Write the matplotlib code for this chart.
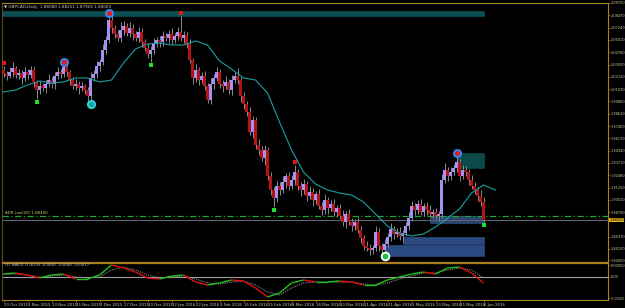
import matplotlib
matplotlib.use("Agg")
import numpy as np
import matplotlib.pyplot as plt
from matplotlib.patches import Rectangle
from matplotlib.collections import LineCollection
import matplotlib.transforms as mtransforms

# ---------------- data ----------------
first_open = 2.030
close = [
    2.026, 2.024, 2.028, 2.032, 2.025, 2.027, 2.022, 2.028, 2.025, 2.030,
    2.018, 2.010, 2.014, 2.012, 2.016, 2.020, 2.016, 2.024, 2.028, 2.026,
    2.033, 2.028, 2.020, 2.014, 2.016, 2.012, 2.014, 2.010, 2.004, 2.022,
    2.026, 2.034, 2.038, 2.050, 2.060, 2.080, 2.072, 2.066, 2.062, 2.070,
    2.074, 2.067, 2.072, 2.066, 2.062, 2.068, 2.058, 2.052, 2.046, 2.050,
    2.056, 2.060, 2.058, 2.064, 2.062, 2.066, 2.060, 2.064, 2.068, 2.062,
    2.065, 2.056, 2.040, 2.022, 2.030, 2.020, 2.024, 2.014, 2.000, 2.016,
    2.022, 2.028, 2.016, 2.014, 2.018, 2.010, 2.020, 2.024, 2.020, 2.004,
    1.996, 1.988, 1.968, 1.980, 1.955, 1.950, 1.942, 1.950, 1.924, 1.910,
    1.902, 1.914, 1.910, 1.918, 1.924, 1.914, 1.920, 1.928, 1.914, 1.910,
    1.916, 1.904, 1.908, 1.900, 1.906, 1.894, 1.890, 1.900, 1.892, 1.896,
    1.888, 1.892, 1.884, 1.878, 1.886, 1.878, 1.874, 1.878, 1.870, 1.862,
    1.854, 1.852, 1.850, 1.852, 1.868, 1.854, 1.850, 1.856, 1.863, 1.871,
    1.866, 1.868, 1.864, 1.867, 1.874, 1.882, 1.894, 1.890, 1.896, 1.888,
    1.894, 1.890, 1.886, 1.888, 1.884, 1.886, 1.920, 1.930, 1.924, 1.928,
    1.932, 1.938, 1.924, 1.930, 1.928, 1.920, 1.914, 1.910, 1.904, 1.898, 1.880,
]
wick_up = [
    .004, .003, .005, .006, .002, .004, .003, .005, .003, .004,
    .003, .002, .005, .003, .004, .006, .003, .004, .005, .003,
    .005, .004, .002, .003, .005, .003, .004, .002, .003, .006,
    .004, .005, .003, .006, .004, .007, .005, .003, .004, .008,
    .005, .003, .006, .004, .003, .005, .004, .003, .005, .004,
    .006, .003, .004, .005, .003, .004, .006, .003, .005, .016,
    .004, .003, .005, .002, .006, .003, .004, .005, .003, .006,
    .004, .005, .003, .004, .006, .003, .005, .004, .008, .003,
    .004, .003, .005, .004, .003, .006, .004, .005, .003, .004,
    .003, .005, .004, .006, .003, .004, .005, .007, .003, .004,
    .005, .003, .006, .004, .003, .005, .004, .006, .003, .004,
    .005, .003, .004, .006, .003, .005, .004, .003, .005, .004,
    .003, .005, .004, .003, .006, .004, .003, .005, .004, .006,
    .003, .004, .005, .003, .004, .006, .005, .003, .004, .005,
    .003, .004, .005, .003, .004, .003, .006, .007, .003, .005,
    .004, .009, .003, .005, .004, .003, .005, .004, .003, .006, .005,
]
wick_dn = [
    .003, .004, .002, .005, .003, .004, .006, .003, .004, .003,
    .005, .009, .004, .003, .005, .003, .004, .005, .003, .004,
    .003, .004, .005, .003, .004, .006, .003, .004, .005, .008,
    .003, .004, .005, .003, .004, .003, .005, .004, .003, .004,
    .005, .003, .004, .006, .003, .004, .005, .003, .004, .008,
    .004, .003, .005, .004, .003, .005, .004, .003, .004, .003,
    .005, .004, .003, .006, .004, .005, .003, .004, .003, .004,
    .005, .003, .004, .006, .003, .004, .005, .003, .004, .006,
    .005, .004, .003, .006, .004, .005, .003, .007, .004, .005,
    .009, .004, .005, .003, .006, .004, .003, .005, .004, .006,
    .004, .005, .003, .006, .004, .003, .005, .004, .006, .003,
    .004, .005, .003, .004, .006, .003, .005, .004, .003, .005,
    .004, .003, .005, .004, .003, .005, .004, .006, .003, .004,
    .005, .003, .004, .006, .003, .004, .003, .005, .004, .003,
    .004, .005, .003, .004, .003, .005, .004, .003, .005, .004,
    .003, .004, .005, .003, .004, .005, .003, .004, .005, .004, .002,
]

# moving average sampled every 4 bars (bar 0 .. 164)
ma_step = 4
ma_vals = [2.008, 2.010, 2.015, 2.019, 2.017, 2.018, 2.022, 2.022, 2.018, 2.020,
           2.037, 2.051, 2.056, 2.057, 2.055, 2.055, 2.059, 2.055, 2.039, 2.031,
           2.022, 2.020, 2.007, 1.978, 1.950, 1.928, 1.916, 1.910, 1.907, 1.905,
           1.898, 1.886, 1.874, 1.867, 1.864, 1.866, 1.873, 1.882, 1.891, 1.907,
           1.915, 1.910]

# MACD (7,30,9) sampled every 4 bars (bar 0 .. 160)
macd_vals = [0.0024, 0.0032, 0.0016, -0.0008, 0.0016, 0.0024, -0.0016, -0.0016, 0.0016, 0.0096,
             0.0072, 0.0040, -0.0008, -0.0016, 0.0008, 0.0016, -0.0040, -0.0064, -0.0048, -0.0024,
             -0.0032, -0.0088, -0.0160, -0.0128, -0.0048, -0.0024, -0.0040, -0.0040, -0.0032, -0.0040,
             -0.0064, -0.0064, -0.0024, 0.0000, 0.0024, 0.0040, 0.0024, 0.0072, 0.0080, 0.0032,
             -0.0048]
signal_vals = [0.0024, 0.0024, 0.0016, 0.0000, 0.0008, 0.0016, 0.0000, -0.0008, 0.0000, 0.0056,
               0.0080, 0.0056, 0.0016, -0.0008, 0.0000, 0.0008, -0.0016, -0.0048, -0.0056, -0.0040,
               -0.0032, -0.0064, -0.0120, -0.0144, -0.0088, -0.0048, -0.0040, -0.0040, -0.0040, -0.0040,
               -0.0056, -0.0064, -0.0048, -0.0016, 0.0008, 0.0032, 0.0032, 0.0056, 0.0072, 0.0056,
               -0.0008]

date_labels = ["23 Oct 2015", "3 Nov 2015", "13 Nov 2015", "25 Nov 2015", "7 Dec 2015",
               "17 Dec 2015", "30 Dec 2015", "12 Jan 2016", "22 Jan 2016", "3 Feb 2016",
               "15 Feb 2016", "25 Feb 2016", "8 Mar 2016", "18 Mar 2016", "30 Mar 2016",
               "11 Apr 2016", "21 Apr 2016", "3 May 2016", "13 May 2016", "25 May 2016",
               "6 Jun 2016"]
bars_per_label = 8

price_ticks = [2.0970, 2.0847, 2.0724, 2.0601, 2.0478, 2.0355, 2.0232, 2.0109, 1.9986,
               1.9863, 1.9740, 1.9617, 1.9494, 1.9371, 1.9248, 1.9125, 1.9002, 1.8879,
               1.8633, 1.8510, 1.8400]
macd_ticks = [0.0095, 0.0, -0.0168]
macd_tick_labels = ["0.00950", "0.00", "-0.0168"]

zigzag_high_idx = [20, 35, 151]
zigzag_low_idx = [29, 127]
fractal_up_idx = [0, 59, 97]
fractal_dn_idx = [11, 49, 90, 160]

adr_level = 1.884
bid_price = 1.880

# zones: (start bar, end bar, top, bottom, color, alpha)
zones = [
    (-1, 160, 2.089, 2.084, "#0c4f52", 1.0),
    (151, 160, 1.947, 1.932, "#0b4a48", 1.0),
    (127, 160, 1.855, 1.844, "#2c4a82", 1.0),
    (133, 160, 1.863, 1.856, "#2c4a82", 1.0),
    (142, 160, 1.884, 1.877, "#3a5a96", 0.75),
]

# ---------------- figure ----------------
W, H = 625, 308
fig = plt.figure(figsize=(W / 100, H / 100), dpi=100, facecolor="black")


def rect(l, t, r, b):
    return [l / W, 1 - b / H, (r - l) / W, (b - t) / H]


RIGHT = 608
ax = fig.add_axes(rect(2, 3, RIGHT, 262))
axm = fig.add_axes(rect(2, 263, RIGHT, 300))
gold = "#a8801c"
txt = "#d0c8a8"
fs = 2.55
xmax = -0.5 + (RIGHT - 2) / 3.0
for a in (ax, axm):
    a.set_facecolor("black")
    for s in a.spines.values():
        s.set_color(gold)
        s.set_linewidth(0.8)
    a.set_xlim(-0.5, xmax)
ax.spines["bottom"].set_linewidth(0.9)
axm.spines["top"].set_linewidth(0.9)
ax.spines["left"].set_color("#5a4a20")
axm.spines["left"].set_color("#5a4a20")

close = np.array(close)
n = len(close)
idx = np.arange(n)
opn = np.r_[first_open, close[:-1]]
hi = np.maximum(opn, close) + np.array(wick_up)
lo = np.minimum(opn, close) - np.array(wick_dn)

# zones
for s, e, t, b, c, al in zones:
    ax.add_patch(Rectangle((s, b), e - s, t - b, facecolor=c, edgecolor=c, lw=0.5, alpha=al, zorder=1))

ax.axhline(adr_level, color="#1fa82a", lw=0.9, ls=(0, (5, 2, 1, 2)), zorder=2)
ax.axhline(bid_price, color="#5c6670", lw=0.8, zorder=2)

# candles
ax.vlines(idx, lo, hi, color="#8c8c8c", lw=0.7, zorder=3)
up = close >= opn
ax.bar(idx[up], (close - opn)[up], bottom=opn[up], width=0.74, color="#a292f6", lw=0, zorder=4)
ax.bar(idx[~up], (opn - close)[~up], bottom=close[~up], width=0.74, color="#b01414", lw=0, zorder=4)

# moving average
ma_x = np.arange(len(ma_vals)) * ma_step
ax.plot(ma_x, ma_vals, color="#1c9fa0", lw=0.8, zorder=5)

# markers
off_up = mtransforms.offset_copy(ax.transData, fig=fig, x=0, y=2.5, units="points")
off_dn = mtransforms.offset_copy(ax.transData, fig=fig, x=0, y=-2.5, units="points")
ax.plot(fractal_up_idx, hi[fractal_up_idx], "s", ms=2.6, color="#e01818",
        mew=0, transform=off_up, zorder=6)
ax.plot(fractal_dn_idx, lo[fractal_dn_idx], "s", ms=2.6, color="#20e030",
        mew=0, transform=off_dn, zorder=6)
ax.plot(zigzag_high_idx, hi[zigzag_high_idx], "o", ms=5.2, mfc="#e02020", mec="#2b8cff",
        mew=1.3, zorder=7)
ax.plot([zigzag_low_idx[0]], lo[[zigzag_low_idx[0]]], "o", ms=5.2, mfc="#10a0a0", mec="#30d8e8",
        mew=1.3, zorder=7)
ax.plot([zigzag_low_idx[1]], lo[[zigzag_low_idx[1]]], "o", ms=5.6, mfc="#20c040", mec="white",
        mew=1.3, zorder=7)

ax.set_ylim(1.838, 2.097)
ax.set_xticks([])
ax.yaxis.tick_right()
ax.set_yticks(price_ticks)
ax.set_yticklabels([f"{p:.5f}" for p in price_ticks])
ax.tick_params(axis="y", colors=gold, labelcolor=txt, labelsize=fs, length=1.2, width=0.5, pad=0.6)
ax.text(1.002, bid_price, f"{bid_price:.5f}", transform=ax.get_yaxis_transform(), fontsize=fs,
        color="black", va="center", ha="left",
        bbox=dict(boxstyle="square,pad=0.1", fc="#e0b020", ec="none"), zorder=10, clip_on=False)

ax.text(0.5, adr_level + 0.0008, f"ADR Low(20) {adr_level:.5f}", fontsize=2.8, color="#c8d060",
        va="bottom", ha="left", zorder=8)
fig.text(4 / W, 1 - 7 / H, "\u25bc GBPCAD,Daily  1.88080 1.88251 1.87905 1.88000",
         fontsize=3.0, color="#c8c8c8", va="center", ha="left")

# MACD panel
mx = np.arange(len(macd_vals)) * 4
mv = np.array(macd_vals)
segs = [[(mx[k], mv[k]), (mx[k + 1], mv[k + 1])] for k in range(len(mv) - 1)]
cols = ["#20c020" if mv[k + 1] >= mv[k] else "#e01010" for k in range(len(mv) - 1)]
axm.axhline(0, color="#a0a0a0", lw=0.8, zorder=1)
axm.plot(mx, signal_vals, color="#8a8a8a", lw=0.8, ls=(0, (1, 1)), zorder=2)
axm.add_collection(LineCollection(segs, colors=cols, linewidths=1.0, zorder=3))
axm.set_ylim(-0.0184, 0.0112)
axm.yaxis.tick_right()
axm.set_yticks(macd_ticks)
axm.set_yticklabels(macd_tick_labels)
axm.tick_params(axis="y", colors=gold, labelcolor=txt, labelsize=fs, length=1.2, width=0.5, pad=0.6)
axm.text(0.5, 0.0092, "(1) MACD (7,30,9) -0.0047 -0.0047 -0.0017", fontsize=2.8, color="#c8c8c8",
         va="center", ha="left")

xt = np.arange(len(date_labels)) * bars_per_label
axm.set_xticks(xt)
axm.set_xticklabels(date_labels)
for lb in axm.get_xticklabels():
    lb.set_horizontalalignment("left")
axm.tick_params(axis="x", colors=gold, labelcolor=txt, labelsize=2.8, length=1.5, width=0.5, pad=0.5)

fig.savefig("out.png", dpi=100, facecolor="black")
